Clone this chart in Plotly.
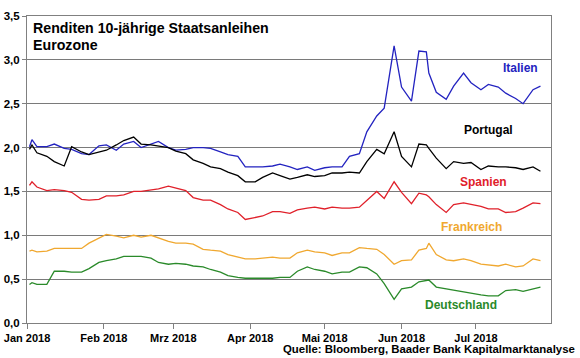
import plotly.graph_objects as go

dates = [
    "2018-01-02", "2018-01-03", "2018-01-05", "2018-01-09", "2018-01-12", "2018-01-16", "2018-01-19", "2018-01-23", "2018-01-26", "2018-01-30",
    "2018-02-02", "2018-02-06", "2018-02-09", "2018-02-13", "2018-02-16", "2018-02-20", "2018-02-23", "2018-02-27",
    "2018-03-02", "2018-03-06", "2018-03-09", "2018-03-13", "2018-03-16", "2018-03-20", "2018-03-23", "2018-03-27", "2018-03-30",
    "2018-04-03", "2018-04-06", "2018-04-10", "2018-04-13", "2018-04-17", "2018-04-20", "2018-04-24", "2018-04-27",
    "2018-05-01", "2018-05-04", "2018-05-08", "2018-05-11", "2018-05-15", "2018-05-18", "2018-05-22", "2018-05-25", "2018-05-29",
    "2018-06-01", "2018-06-05", "2018-06-08", "2018-06-11", "2018-06-12", "2018-06-15", "2018-06-19", "2018-06-22", "2018-06-26", "2018-06-29",
    "2018-07-03", "2018-07-06", "2018-07-10", "2018-07-13", "2018-07-17", "2018-07-20", "2018-07-24", "2018-07-27",
]

italien = [
    2.01, 2.09, 2.01, 2.01, 2.04, 1.99, 1.98, 1.93, 1.92, 2.02,
    2.03, 1.97, 2.04, 2.07, 2.00, 2.04, 2.07, 2.00,
    1.97, 1.98, 2.00, 2.00, 1.99, 1.95, 1.92, 1.90, 1.78,
    1.78, 1.78, 1.79, 1.81, 1.78, 1.75, 1.78, 1.74,
    1.77, 1.78, 1.78, 1.90, 1.93, 2.18, 2.36, 2.45, 3.16,
    2.69, 2.53, 3.10, 3.09, 2.85, 2.63, 2.55, 2.70, 2.85, 2.74,
    2.66, 2.72, 2.69, 2.62, 2.56, 2.50, 2.66, 2.70,
]

portugal = [
    1.98, 2.03, 1.94, 1.90, 1.84, 1.79, 2.01, 1.95, 1.92, 1.95,
    1.97, 2.03, 2.08, 2.12, 2.04, 2.03, 2.02, 2.00,
    1.96, 1.93, 1.86, 1.82, 1.78, 1.76, 1.72, 1.68, 1.61,
    1.61, 1.66, 1.71, 1.68, 1.64, 1.66, 1.69, 1.67,
    1.68, 1.71, 1.71, 1.72, 1.71, 1.84, 1.98, 1.93, 2.18,
    1.90, 1.78, 2.04, 2.03, 1.99, 1.88, 1.76, 1.84, 1.82, 1.83,
    1.75, 1.79, 1.78, 1.78, 1.77, 1.75, 1.78, 1.73,
]

spanien = [
    1.57, 1.61, 1.55, 1.51, 1.52, 1.51, 1.49, 1.41, 1.40, 1.41,
    1.45, 1.45, 1.46, 1.50, 1.50, 1.52, 1.53, 1.56,
    1.54, 1.51, 1.43, 1.40, 1.40, 1.35, 1.30, 1.26, 1.18,
    1.20, 1.22, 1.27, 1.27, 1.25, 1.29, 1.31, 1.32,
    1.30, 1.32, 1.31, 1.31, 1.32, 1.40, 1.50, 1.42, 1.61,
    1.49, 1.36, 1.48, 1.46, 1.44, 1.35, 1.26, 1.35, 1.37, 1.35,
    1.33, 1.30, 1.30, 1.26, 1.27, 1.31, 1.37, 1.36,
]

frankreich = [
    0.82, 0.83, 0.81, 0.82, 0.85, 0.85, 0.85, 0.85, 0.91, 0.97,
    1.01, 0.99, 0.97, 1.00, 0.98, 1.00, 0.97, 0.93,
    0.91, 0.91, 0.90, 0.84, 0.83, 0.82, 0.78, 0.75, 0.73,
    0.73, 0.74, 0.75, 0.74, 0.74, 0.80, 0.83, 0.81,
    0.80, 0.77, 0.80, 0.80, 0.86, 0.85, 0.84, 0.78, 0.67,
    0.71, 0.72, 0.83, 0.85, 0.91, 0.78, 0.72, 0.71, 0.73, 0.71,
    0.67, 0.66, 0.65, 0.67, 0.64, 0.65, 0.73, 0.71,
]

deutschland = [
    0.44, 0.46, 0.44, 0.44, 0.59, 0.59, 0.58, 0.58, 0.62, 0.69,
    0.71, 0.73, 0.76, 0.76, 0.76, 0.74, 0.69, 0.67,
    0.68, 0.67, 0.65, 0.64, 0.61, 0.58, 0.54, 0.52, 0.51,
    0.51, 0.51, 0.51, 0.52, 0.52, 0.59, 0.64, 0.61,
    0.59, 0.56, 0.58, 0.58, 0.64, 0.63, 0.56, 0.45, 0.27,
    0.39, 0.41, 0.47, 0.49, 0.49, 0.41, 0.39, 0.37, 0.35, 0.34,
    0.32, 0.31, 0.31, 0.37, 0.38, 0.36, 0.39, 0.41,
]

month_ticks = ["2018-01-01", "2018-02-01", "2018-03-01", "2018-04-01",
               "2018-05-01", "2018-06-01", "2018-07-01"]
month_labels = ["Jan 2018", "Feb 2018", "Mrz 2018", "Apr 2018",
                "Mai 2018", "Jun 2018", "Jul 2018"]

series = [
    ("Italien", italien, "#2323C0", "2018-07-19", 2.91),
    ("Portugal", portugal, "#000000", "2018-07-06", 2.20),
    ("Spanien", spanien, "#E0202A", "2018-07-04", 1.61),
    ("Frankreich", frankreich, "#F0A830", "2018-06-29", 1.095),
    ("Deutschland", deutschland, "#2A8A2A", "2018-06-25", 0.205),
]

FONT = "Liberation Sans, Arial, sans-serif"
L, R, T, B = 27, 29, 16, 35
W, H = 580, 358
PW, PH = W - L - R, H - T - B

fig = go.Figure()
annotations = []
for name, vals, color, lx, ly in series:
    fig.add_trace(go.Scatter(x=dates, y=vals, mode="lines", name=name,
                             line=dict(color=color, width=1.3)))
    annotations.append(dict(x=lx, y=ly, xref="x", yref="y", text="<b>%s</b>" % name,
                            showarrow=False, xanchor="center", yanchor="middle",
                            font=dict(family=FONT, size=12, color=color)))

annotations.append(dict(x=(31 - L) / PW, y=(H - B - 28) / PH, xref="paper", yref="paper",
                        text="<b>Renditen 10-jährige Staatsanleihen</b>", showarrow=False,
                        xanchor="left", yanchor="middle",
                        font=dict(family=FONT, size=14.2, color="#000000")))
annotations.append(dict(x=(31 - L) / PW, y=(H - B - 45) / PH, xref="paper", yref="paper",
                        text="<b>Eurozone</b>", showarrow=False,
                        xanchor="left", yanchor="middle",
                        font=dict(family=FONT, size=14.2, color="#000000")))
annotations.append(dict(x=(577 - L) / PW, y=(H - B - 349) / PH, xref="paper", yref="paper",
                        text="<b>Quelle: Bloomberg, Baader Bank Kapitalmarktanalyse</b>",
                        showarrow=False, xanchor="right", yanchor="middle",
                        font=dict(family=FONT, size=11.4, color="#000000")))

fig.update_layout(
    width=W, height=H, autosize=False,
    margin=dict(l=L, r=R, t=T, b=B, pad=0, autoexpand=False),
    paper_bgcolor="white", plot_bgcolor="white",
    showlegend=False,
    separators=",.",
    font=dict(family=FONT, size=11, color="#000000"),
    annotations=annotations,
)
fig.update_xaxes(
    type="date", range=["2018-01-01", "2018-07-31 06:00"],
    tickmode="array", tickvals=month_ticks,
    ticktext=["<b>%s</b>" % t for t in month_labels],
    ticks="outside", ticklen=5, tickcolor="#808080",
    showgrid=False, showline=True, linecolor="#808080", linewidth=1, mirror=True,
    tickfont=dict(family=FONT, size=11, color="#000000"), zeroline=False,
    automargin=False,
)
fig.update_yaxes(
    range=[0, 3.5], dtick=0.5, tick0=0, tickformat=".1f",
    ticks="outside", ticklen=4, tickcolor="#808080",
    showgrid=True, gridcolor="#7a7a7a", gridwidth=1,
    showline=True, linecolor="#808080", linewidth=1, mirror=True,
    tickfont=dict(family=FONT, size=11.5, color="#000000"), zeroline=False,
    tickprefix="<b>", ticksuffix="</b>",
    automargin=False,
)

fig.write_html("out.html",
               config={"displayModeBar": False, "staticPlot": True},
               post_script="document.body.style.margin='0';document.body.style.padding='0';")
